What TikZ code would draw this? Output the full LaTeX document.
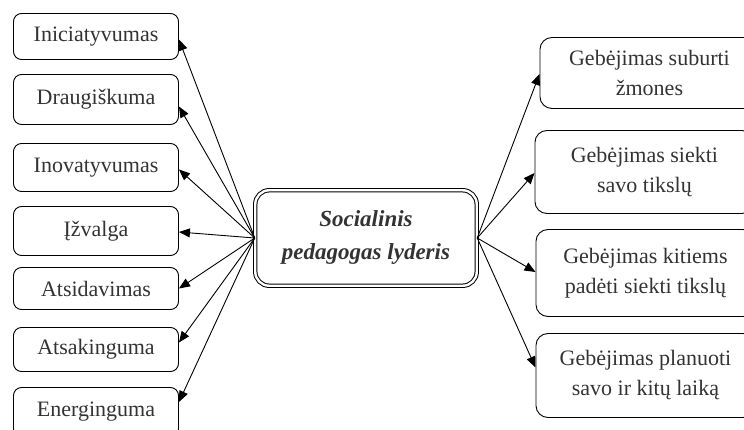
\documentclass[tikz,border=0pt]{standalone}
\usepackage{fontspec}
\setmainfont{Liberation Serif}
\usetikzlibrary{arrows.meta,calc}
\begin{document}
\begin{tikzpicture}[x=1pt,y=-1pt,
  lbox/.style={draw, line width=0.9pt, rounded corners=8pt, minimum width=165pt,
    inner sep=0pt, font=\fontsize{22}{30}\selectfont, text=black!80, align=center},
  rbox/.style={draw, line width=0.9pt, rounded corners=12pt, minimum width=219pt, anchor=west,
    inner sep=0pt, font=\fontsize{22}{30}\selectfont, text=black!80, align=center},
  hub/.style={draw, double, double distance=2.4pt, line width=1pt, rounded corners=14pt,
    minimum width=221.5pt, minimum height=95.5pt, inner sep=0pt, text=black!80,
    font=\bfseries\itshape\fontsize{23}{33}\selectfont, align=center},
  conn/.style={line width=0.9pt, -{Triangle[length=11pt,width=9pt]}}]
\useasboundingbox (0,0) rectangle (744,430);
\clip (0,0) rectangle (744,430);

\node[hub] (c) at (366,238) {Socialinis\\pedagogas lyderis};

\node[lbox, minimum height=46pt] (l1) at (96,36.5) {Iniciatyvumas};
\node[lbox, minimum height=50pt] (l2) at (96,99.5) {Draugiškuma};
\node[lbox, minimum height=48pt] (l3) at (96,167.5) {Inovatyvumas};
\node[lbox, minimum height=49pt] (l4) at (96,231) {Įžvalga};
\node[lbox, minimum height=42pt] (l5) at (96,288.5) {Atsidavimas};
\node[lbox, minimum height=44pt] (l6) at (96,349.5) {Atsakinguma};
\node[lbox, minimum height=49pt] (l7) at (96,412) {Energinguma};

\node[rbox, minimum height=71pt] (r1) at (539.5,73) {Gebėjimas suburti\\žmones};
\node[rbox, minimum height=83pt] (r2) at (534.5,172) {Gebėjimas siekti\\savo tikslų};
\node[rbox, minimum height=87pt] (r3) at (535.5,273) {Gebėjimas kitiems\\padėti siekti tikslų};
\node[rbox, minimum height=84pt] (r4) at (535.5,375.5) {Gebėjimas planuoti\\savo ir kitų laiką};

\foreach \n/\dy in {l1/3, l2/7, l3/2, l4/1, l5/0, l6/-7, l7/-10}
  \draw[conn] (c.west) -- ($(\n.east)+(0,\dy)$);
\foreach \n/\dy in {r1/1, r2/1, r3/-1, r4/-8}
  \draw[conn] (c.east) -- ($(\n.west)+(0,\dy)$);
\end{tikzpicture}
\end{document}
